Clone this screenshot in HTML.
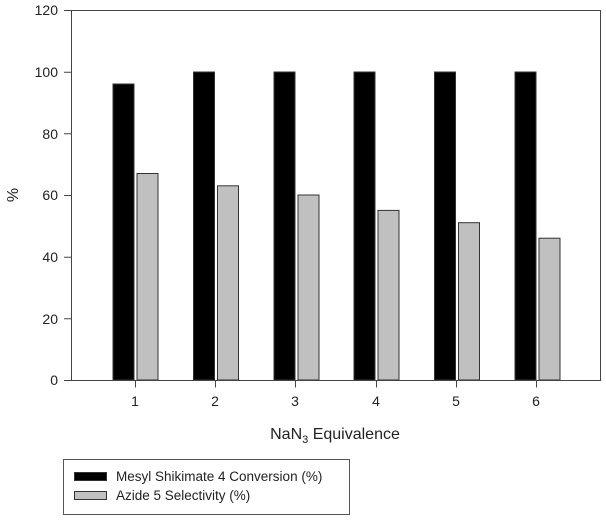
<!DOCTYPE html>
<html><head><style>body{margin:0;background:#fff}</style></head><body>
<svg width="606" height="519" xmlns="http://www.w3.org/2000/svg" font-family="Liberation Sans, sans-serif">
<rect width="606" height="519" fill="#fff"/>
<g fill="#000" stroke="#333" stroke-width="1">
<rect x="113" y="84" width="21" height="296"/>
<rect x="193.5" y="72" width="21" height="308"/>
<rect x="274" y="72" width="21" height="308"/>
<rect x="354" y="72" width="21" height="308"/>
<rect x="434.5" y="72" width="21" height="308"/>
<rect x="515" y="72" width="21" height="308"/>
</g>
<g fill="#c0c0c0" stroke="#333" stroke-width="1">
<rect x="137" y="173.5" width="21" height="206.5"/>
<rect x="217.5" y="185.8" width="21" height="194.2"/>
<rect x="298" y="195" width="21" height="185"/>
<rect x="378" y="210.4" width="21" height="169.6"/>
<rect x="458.5" y="222.7" width="21" height="157.3"/>
<rect x="539" y="238.2" width="21" height="141.8"/>
</g>
<g stroke="#444" stroke-width="1" fill="none">
<path d="M71.5 10.5V380.5H600.5V10.5H71.5"/>
<path d="M64 10.5H71.5M64 72.2H71.5M64 133.8H71.5M64 195.5H71.5M64 257.2H71.5M64 318.8H71.5M64 380.5H71.5"/>
<path d="M135.5 380.5v7M215.5 380.5v7M295.5 380.5v7M376.5 380.5v7M456.5 380.5v7M536.5 380.5v7"/>
</g>
<g font-size="14" fill="#222" text-anchor="end">
<text x="58" y="15">120</text><text x="58" y="77">100</text><text x="58" y="139">80</text>
<text x="58" y="200">60</text><text x="58" y="262">40</text><text x="58" y="324">20</text><text x="58" y="385">0</text>
</g>
<g font-size="14" fill="#222" text-anchor="middle">
<text x="135" y="406">1</text><text x="215" y="406">2</text><text x="295" y="406">3</text>
<text x="376" y="406">4</text><text x="456" y="406">5</text><text x="536" y="406">6</text>
</g>
<text x="18" y="195" font-size="16" fill="#222" text-anchor="middle" transform="rotate(-90 18 195)">%</text>
<text x="335" y="439" font-size="16" fill="#222" text-anchor="middle">NaN<tspan font-size="11" dy="4">3</tspan><tspan dy="-4"> Equivalence</tspan></text>
<rect x="63.5" y="459.5" width="286" height="55" fill="#fff" stroke="#555"/>
<rect x="74.5" y="472.5" width="32" height="8" fill="#000" stroke="#333"/>
<rect x="74.5" y="491.5" width="32" height="8" fill="#c0c0c0" stroke="#333"/>
<g font-size="13.5" fill="#222">
<text x="116" y="481">Mesyl Shikimate 4 Conversion (%)</text>
<text x="116" y="500">Azide 5 Selectivity (%)</text>
</g>
</svg>
</body></html>
